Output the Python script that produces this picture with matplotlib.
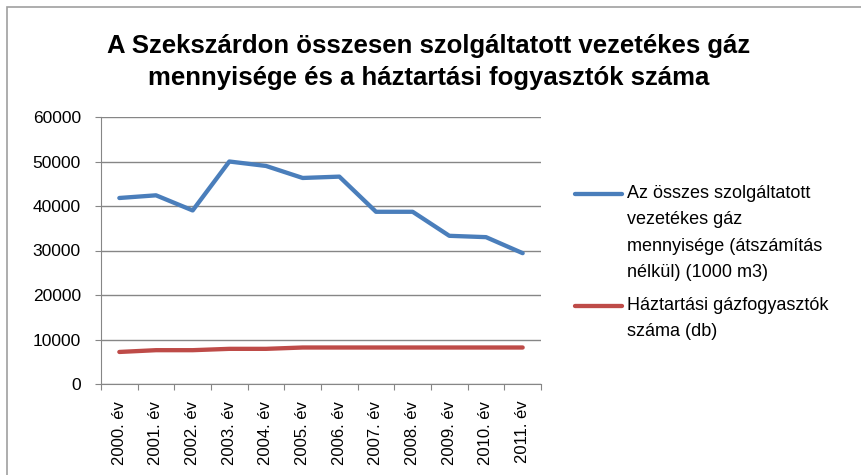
import matplotlib.pyplot as plt
from matplotlib.patches import Rectangle
from matplotlib.lines import Line2D

years = ["2000. év", "2001. év", "2002. év", "2003. év", "2004. év", "2005. év",
         "2006. év", "2007. év", "2008. év", "2009. év", "2010. év", "2011. év"]
gaz_mennyiseg = [41800, 42400, 39000, 50000, 49000, 46300, 46600, 38700, 38700, 33300, 33000, 29400]
haztartasi = [7200, 7600, 7600, 7900, 7900, 8200, 8200, 8200, 8200, 8200, 8200, 8200]

label_gaz = "Az összes szolgáltatott\nvezetékes gáz\nmennyisége (átszámítás\nnélkül) (1000 m3)"
label_hazt = "Háztartási gázfogyasztók\nszáma (db)"

plt.rcParams['font.family'] = ['Liberation Sans', 'DejaVu Sans']

W, H = 862, 475
fig = plt.figure(figsize=(W / 100, H / 100), dpi=100)
# chart frame (only top and left edge are inside the picture)
fig.patches.append(Rectangle((7 / W, -0.05), 1.1, 1.05 - 7 / H, transform=fig.transFigure,
                             fill=False, edgecolor="#a0a0a0", linewidth=1.2))
ax = fig.add_axes([101 / W, 1 - 384 / H, 440 / W, 267 / H])

x = range(len(years))
l1, = ax.plot(x, gaz_mennyiseg, color="#4a7ebb", linewidth=3.1, solid_capstyle="round")
l2, = ax.plot(x, haztartasi, color="#be4b48", linewidth=3.1, solid_capstyle="round")

ax.set_xlim(-0.5, len(years) - 0.5)
ax.set_ylim(0, 60000)
ax.set_yticks(range(0, 60001, 10000))
ax.set_yticklabels([str(v) for v in range(0, 60001, 10000)], fontsize=12.5)
ax.grid(axis="y", color="#868686", linewidth=1)
ax.set_axisbelow(True)

# category ticks sit between categories, labels in the middle
ax.set_xticks([i - 0.5 for i in range(len(years) + 1)])
ax.set_xticklabels([])
ax.set_xticks(list(x), minor=True)
ax.set_xticklabels(years, minor=True, rotation=90, fontsize=12)
ax.tick_params(axis="x", which="minor", length=0, pad=12)
ax.tick_params(axis="x", which="major", length=4.5, color="#868686")
ax.tick_params(axis="y", length=4.5, color="#868686", pad=10)

for s in ["top", "right"]:
    ax.spines[s].set_visible(False)
for s in ["left", "bottom"]:
    ax.spines[s].set_color("#868686")

fig.text(0.497, 1 - 62 / H, "A Szekszárdon összesen szolgáltatott vezetékes gáz\nmennyisége és a háztartási fogyasztók száma",
         ha="center", va="center", fontsize=18.5, fontweight="bold", linespacing=1.4)

# legend, handle lined up with the first text line like in Excel
for line, label, y in [(l1, label_gaz, 194), (l2, label_hazt, 306)]:
    fig.add_artist(Line2D([575 / W, 622 / W], [1 - y / H, 1 - y / H], transform=fig.transFigure,
                          color=line.get_color(), linewidth=3.1, solid_capstyle="round"))
    fig.text(627 / W, 1 - (y - 9) / H, label, ha="left", va="top", fontsize=13, linespacing=1.72)

fig.savefig("out.png", dpi=100)
